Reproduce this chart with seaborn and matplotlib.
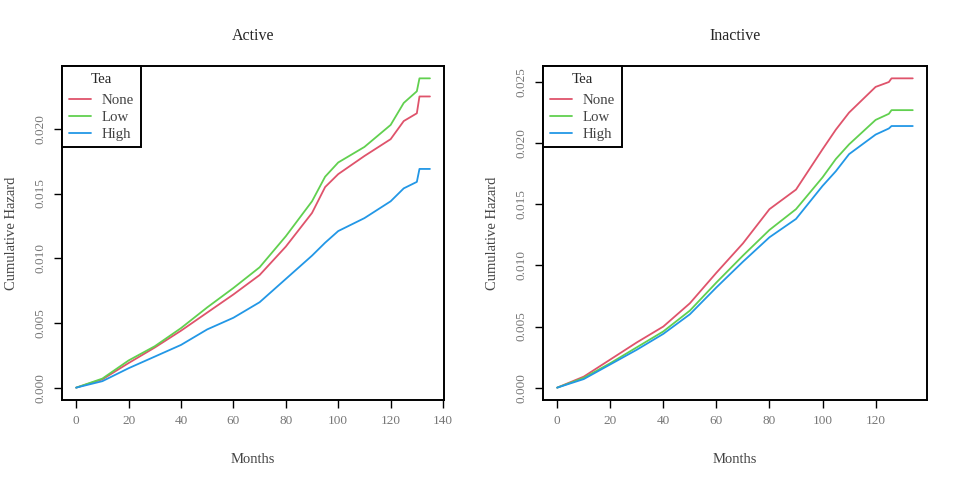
import numpy as np
import pandas as pd
import seaborn as sns
import matplotlib
matplotlib.use('Agg')
import matplotlib.pyplot as plt

months_active = [0, 10, 20, 30, 40, 50, 60, 70, 80, 90, 95, 100, 110, 120, 125, 130, 131, 135]
none_active = [0, 0.00064, 0.0019, 0.0031, 0.0044, 0.0058, 0.0072, 0.0087, 0.0109, 0.0135, 0.0155,
               0.0165, 0.0179, 0.0192, 0.0206, 0.0212, 0.0225, 0.0225]
low_active = [0, 0.0007, 0.0021, 0.0032, 0.0046, 0.0062, 0.0077, 0.0093, 0.0117, 0.0144, 0.0163,
              0.0174, 0.0186, 0.0203, 0.0220, 0.0229, 0.0239, 0.0239]
high_active = [0, 0.0005, 0.0015, 0.0024, 0.0033, 0.0045, 0.0054, 0.0066, 0.0084, 0.0102, 0.0112,
               0.0121, 0.0131, 0.0144, 0.0154, 0.0159, 0.0169, 0.0169]

months_inactive = [0, 10, 20, 30, 40, 50, 60, 70, 80, 90, 100, 105, 110, 120, 125, 126, 134]
none_inactive = [0, 0.0009, 0.0023, 0.0037, 0.0050, 0.0069, 0.0094, 0.0118, 0.0146, 0.0162, 0.0195,
                 0.0211, 0.0225, 0.0246, 0.0250, 0.0253, 0.0253]
low_inactive = [0, 0.0008, 0.0020, 0.0033, 0.0046, 0.0063, 0.0086, 0.0108, 0.0129, 0.0146, 0.0172,
                0.0187, 0.0199, 0.0219, 0.0224, 0.0227, 0.0227]
high_inactive = [0, 0.0007, 0.0019, 0.0031, 0.0044, 0.0060, 0.0082, 0.0103, 0.0123, 0.0138, 0.0165,
                 0.0177, 0.0191, 0.0207, 0.0212, 0.0214, 0.0214]

tea_levels = ['None', 'Low', 'High']
colors = ['#DF536B', '#61D04F', '#2297E6']


def long_df(months, curves):
    frames = []
    for lvl, vals in zip(tea_levels, curves):
        frames.append(pd.DataFrame({'Months': months, 'Hazard': vals, 'Tea': lvl}))
    return pd.concat(frames, ignore_index=True)


active = long_df(months_active, [none_active, low_active, high_active])
inactive = long_df(months_inactive, [none_inactive, low_inactive, high_inactive])

sns.set_style('white')
plt.rcParams['font.family'] = ['Liberation Serif', 'DejaVu Serif']

fig = plt.figure(figsize=(9.6, 4.83), dpi=100)
ax1 = fig.add_axes([0.0646, 0.1718, 0.398, 0.6916])
ax2 = fig.add_axes([0.5656, 0.1718, 0.400, 0.6916])

panels = [
    (ax1, active, 'Active', np.arange(0, 141, 20), np.arange(0, 0.0201, 0.005), 135, 0.0239),
    (ax2, inactive, 'Inactive', np.arange(0, 121, 20), np.arange(0, 0.0251, 0.005), 134, 0.0253),
]

for ax, df, title, xt, yt, xmax, ymax in panels:
    sns.lineplot(data=df, x='Months', y='Hazard', hue='Tea', hue_order=tea_levels,
                 palette=colors, estimator=None, lw=1.3, ax=ax)
    ax.set_xlim(-0.04 * xmax, xmax * 1.04)
    ax.set_ylim(-0.04 * ymax, ymax * 1.04)
    ax.set_xticks(xt)
    ax.set_yticks(yt)
    ax.set_yticklabels(['%.3f' % v for v in yt], rotation=90, va='center')
    ax.tick_params(axis='both', direction='out', length=6, width=1, colors='black',
                   labelcolor='#777777', labelsize=9.5, pad=5, bottom=True, left=True)
    for s in ax.spines.values():
        s.set_color('black')
        s.set_linewidth(1.4)
    ax.set_title(title, fontsize=11.5, pad=18.5)
    ax.set_xlabel('Months', fontsize=10.5, color='#444444', labelpad=18.5)
    ax.set_ylabel('Cumulative Hazard', fontsize=10.5, color='#444444', labelpad=12)
    leg = ax.legend(title='Tea', loc='upper left', borderaxespad=0, fancybox=False,
                    fontsize=10.7, title_fontsize=10.7, handlelength=1.5, handletextpad=0.72,
                    labelspacing=0.22, borderpad=0.45, framealpha=1)
    leg.get_frame().set_edgecolor('black')
    leg.get_frame().set_linewidth(1.4)
    leg._legend_box.sep = 6
    for t in leg.get_texts():
        t.set_color('#444444')

fig.savefig('out.png', dpi=100)
